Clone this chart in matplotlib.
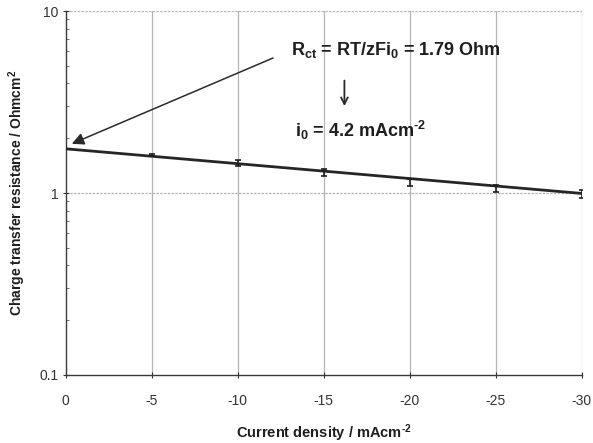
import matplotlib
matplotlib.use("Agg")
import matplotlib.pyplot as plt
from matplotlib.ticker import FixedLocator, LogLocator, NullFormatter

plt.rcParams["font.family"] = ["Liberation Sans", "DejaVu Sans"]
plt.rcParams["mathtext.fontset"] = "custom"
plt.rcParams["mathtext.rm"] = "Liberation Sans:bold"
plt.rcParams["mathtext.it"] = "Liberation Sans:bold"
plt.rcParams["mathtext.bf"] = "Liberation Sans:bold"

# measured points (current density, charge transfer resistance, error)
current = [-5, -10, -15, -20, -25, -30]
resistance = [1.61, 1.46, 1.30, 1.15, 1.06, 0.99]
error = [0.02, 0.06, 0.06, 0.05, 0.05, 0.05]

# fitted line, extrapolated to zero current
fit_current = [0, -30]
fit_resistance = [1.75, 0.995]

xticks = [0, -5, -10, -15, -20, -25, -30]
yticks = [0.1, 1, 10]
ytick_labels = ["0.1", "1", "10"]

INK = "#1e1e1e"
GRID = "#b4b4b4"

fig = plt.figure(figsize=(5.93, 4.43), dpi=100)
ax = fig.add_axes([0.111, 0.1535, 0.870, 0.8215])

ax.set_yscale("log")
ax.set_xlim(0, -30)
ax.set_ylim(0.1, 10)

for x in xticks[1:]:
    ax.axvline(x, color=GRID, linewidth=0.9, zorder=1)
for y in (1, 10):
    ax.axhline(y, color=GRID, linewidth=0.9, linestyle=(0, (2, 1)), zorder=1)

ax.plot(fit_current, fit_resistance, color="#262626", linewidth=2.0, zorder=3)
ax.errorbar(current, resistance, yerr=error, fmt="none", ecolor=INK,
            elinewidth=1.2, capsize=2.5, capthick=1.2, zorder=4)

ax.xaxis.set_major_locator(FixedLocator(xticks))
ax.set_xticklabels([str(x) for x in xticks])
ax.yaxis.set_major_locator(FixedLocator(yticks))
ax.set_yticklabels(ytick_labels)
ax.yaxis.set_minor_locator(LogLocator(base=10, subs=range(2, 10)))
ax.yaxis.set_minor_formatter(NullFormatter())

ax.tick_params(axis="both", which="major", labelsize=10, colors="#333333",
               length=4, width=0.8, direction="inout")
ax.tick_params(axis="y", which="minor", length=2.5, width=0.6, direction="in",
               colors="#555555")
ax.tick_params(axis="x", pad=12)

for side in ("top", "right"):
    ax.spines[side].set_visible(False)
for side in ("left", "bottom"):
    ax.spines[side].set_color("#3a3a3a")
    ax.spines[side].set_linewidth(1.0)

ax.set_xlabel(r"Current density / mAcm$^{\text{-2}}$", fontsize=10.5,
              fontweight="bold", color=INK, labelpad=10)
ax.set_ylabel("Charge transfer resistance / Ohmcm$^{2}$", fontsize=10,
              fontweight="bold", color=INK, labelpad=8)

ax.text(-13.1, 6.1, "R$_{ct}$ = RT/zFi$_0$ = 1.79 Ohm", fontsize=13,
        fontweight="bold", color=INK, ha="left", va="center")
ax.text(-13.3, 2.2, r"i$_0$ = 4.2 mAcm$^{\text{-2}}$", fontsize=13,
        fontweight="bold", color=INK, ha="left", va="center")

ax.annotate("", xy=(-0.2, 1.84), xytext=(-12.2, 5.6),
            arrowprops=dict(arrowstyle="-|>", color="#2a2a2a", lw=1.1,
                            mutation_scale=18))
ax.annotate("", xy=(-16.2, 2.9), xytext=(-16.2, 4.3),
            arrowprops=dict(arrowstyle="->", color="#2a2a2a", lw=1.3,
                            mutation_scale=12))

fig.savefig("out.png", dpi=100, facecolor="white")
